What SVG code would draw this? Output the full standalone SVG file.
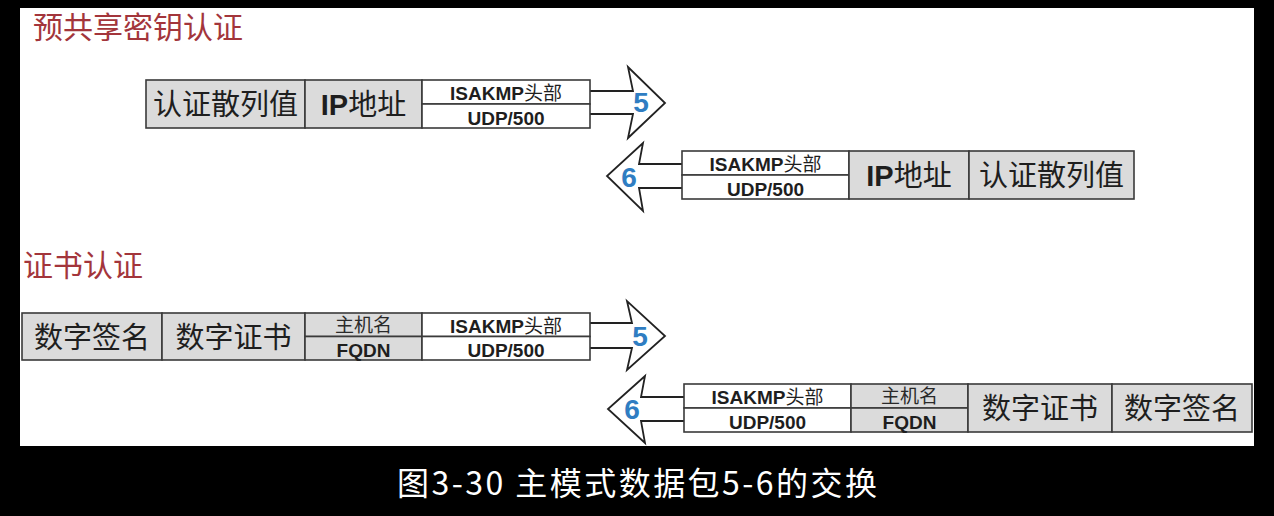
<svg xmlns="http://www.w3.org/2000/svg" width="1274" height="516" viewBox="0 0 1274 516">
<style>
.g{fill:#dbdbdb;stroke:#3a3a3a;stroke-width:1.6}
.w{fill:#ffffff;stroke:#3a3a3a;stroke-width:1.6}
.big{font-family:"Noto Sans CJK SC",sans-serif;font-size:29px;fill:#1e1e1e;text-anchor:middle}
.ip{font-family:"Liberation Sans","Noto Sans CJK SC",sans-serif;font-size:29px;fill:#1e1e1e;text-anchor:middle}
.sm{font-family:"Liberation Sans","Noto Sans CJK SC",sans-serif;font-size:19px;font-weight:bold;fill:#1e1e1e;text-anchor:middle}
.smc{font-family:"Noto Sans CJK SC",sans-serif;font-size:19px;fill:#2a2a2a;text-anchor:middle}
.ttl{font-family:"Noto Sans CJK SC",sans-serif;font-size:30px;fill:#a3353b}
.arr{fill:#ffffff;stroke:#222222;stroke-width:1.8;stroke-linejoin:miter}
.num{font-family:"Liberation Sans",sans-serif;font-size:28px;font-weight:bold;fill:#2f7dc2;text-anchor:middle}
.n{font-weight:normal}
.b{font-weight:bold}
</style>
<rect x="0" y="0" width="1274" height="516" fill="#000000"/>
<rect x="20" y="8" width="1234" height="438" fill="#ffffff"/>

<text class="ttl" x="33" y="38">预共享密钥认证</text>
<text class="ttl" x="23" y="276">证书认证</text>

<g id="connectors">
  <polyline class="arr" points="590,91 633,91 628,67 665,103 628,138 633,114 590,114"/>
  <text class="num" x="641" y="112">5</text>
  <polyline class="arr" points="682,164 639,164 643,143 607,176 643,211 639,188 682,188"/>
  <text class="num" x="629" y="187">6</text>
  <polyline class="arr" points="590,323 632,323 627,301 665,336 627,370 632,348 590,348"/>
  <text class="num" x="640" y="346">5</text>
  <polyline class="arr" points="684,397 641,397 645,376 608,409 645,443 641,421 684,421"/>
  <text class="num" x="632" y="419">6</text>
</g>

<g id="packet5-psk">
  <rect class="g" x="146" y="80" width="159" height="48"/>
  <text class="big" x="225.5" y="115">认证散列值</text>
  <rect class="g" x="305" y="80" width="117" height="48"/>
  <text class="ip" x="363.5" y="115"><tspan class="b">IP</tspan>地址</text>
  <rect class="w" x="422" y="80" width="168" height="24"/>
  <text class="sm" x="506" y="100">ISAKMP<tspan class="n">头部</tspan></text>
  <rect class="w" x="422" y="104" width="168" height="24"/>
  <text class="sm" x="506" y="125">UDP/500</text>
</g>

<g id="packet6-psk">
  <rect class="w" x="682" y="151" width="167" height="24"/>
  <text class="sm" x="765.5" y="171">ISAKMP<tspan class="n">头部</tspan></text>
  <rect class="w" x="682" y="175" width="167" height="24"/>
  <text class="sm" x="765.5" y="196">UDP/500</text>
  <rect class="g" x="849" y="151" width="120" height="48"/>
  <text class="ip" x="909" y="186"><tspan class="b">IP</tspan>地址</text>
  <rect class="g" x="969" y="151" width="165" height="48"/>
  <text class="big" x="1051.5" y="186">认证散列值</text>
</g>

<g id="packet5-cert">
  <rect class="g" x="22" y="313" width="140" height="47"/>
  <text class="big" x="92" y="348">数字签名</text>
  <rect class="g" x="162" y="313" width="143" height="47"/>
  <text class="big" x="233.5" y="348">数字证书</text>
  <rect class="g" x="305" y="313" width="117" height="23.5"/>
  <text class="smc" x="363.5" y="332">主机名</text>
  <rect class="g" x="305" y="336.5" width="117" height="23.5"/>
  <text class="sm" x="363.5" y="357">FQDN</text>
  <rect class="w" x="422" y="313" width="168" height="23.5"/>
  <text class="sm" x="506" y="333">ISAKMP<tspan class="n">头部</tspan></text>
  <rect class="w" x="422" y="336.5" width="168" height="23.5"/>
  <text class="sm" x="506" y="357">UDP/500</text>
</g>

<g id="packet6-cert">
  <rect class="w" x="684" y="384" width="167" height="24"/>
  <text class="sm" x="767.5" y="404">ISAKMP<tspan class="n">头部</tspan></text>
  <rect class="w" x="684" y="408" width="167" height="24"/>
  <text class="sm" x="767.5" y="429">UDP/500</text>
  <rect class="g" x="851" y="384" width="117" height="24"/>
  <text class="smc" x="909.5" y="403">主机名</text>
  <rect class="g" x="851" y="408" width="117" height="24"/>
  <text class="sm" x="909.5" y="429">FQDN</text>
  <rect class="g" x="968" y="384" width="144" height="48"/>
  <text class="big" x="1040" y="419">数字证书</text>
  <rect class="g" x="1112" y="384" width="140" height="48"/>
  <text class="big" x="1182" y="419">数字签名</text>
</g>

<text x="637" y="495" text-anchor="middle" textLength="480" font-family="Noto Sans CJK SC, sans-serif" font-size="32" fill="#ffffff">图3-30 主模式数据包5-6的交换</text>
</svg>
